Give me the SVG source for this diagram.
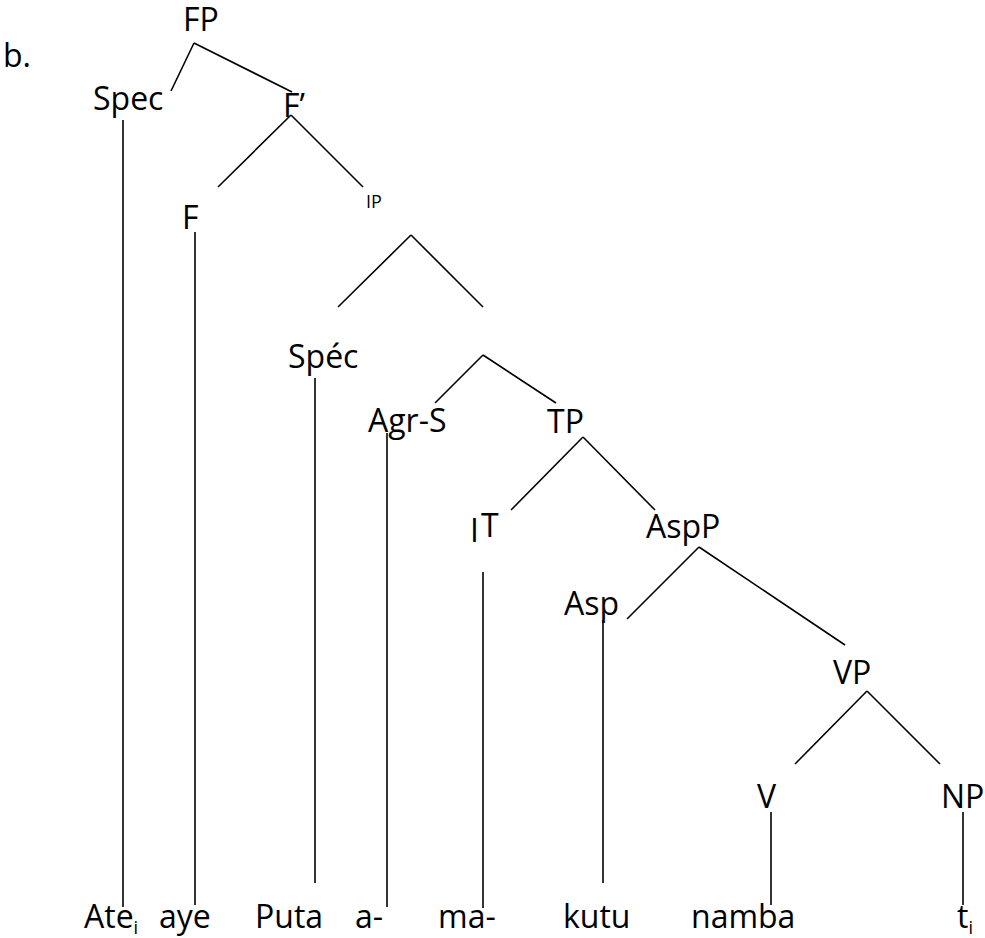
<svg xmlns="http://www.w3.org/2000/svg" width="985" height="938" viewBox="0 0 985 938">
<style>
text{font-family:"Open Sans","Noto Sans",sans-serif;font-size:32px;fill:#000}
.sm{font-size:18px}
.sub{font-size:18px}
line{stroke:#000;stroke-width:1.6;stroke-linecap:butt}
</style>
<rect width="985" height="938" fill="#fff"/>
<g id="connectors">
<line x1="194" y1="43" x2="171" y2="91"/>
<line x1="194" y1="43" x2="292" y2="92"/>
<line x1="291" y1="115" x2="218" y2="187"/>
<line x1="291" y1="115" x2="363" y2="187"/>
<line x1="411" y1="235" x2="338" y2="307"/>
<line x1="411" y1="235" x2="483" y2="307"/>
<line x1="483" y1="355" x2="435" y2="403"/>
<line x1="483" y1="355" x2="556" y2="403"/>
<line x1="583" y1="437" x2="511" y2="510"/>
<line x1="583" y1="437" x2="655" y2="510"/>
<line x1="699" y1="547" x2="627" y2="619"/>
<line x1="699" y1="547" x2="845" y2="645"/>
<line x1="867" y1="691" x2="795" y2="764"/>
<line x1="867" y1="691" x2="940" y2="764"/>
<line x1="123" y1="120" x2="123" y2="907"/>
<line x1="195" y1="232" x2="195" y2="905"/>
<line x1="315" y1="378" x2="315" y2="883"/>
<line x1="387" y1="433" x2="387" y2="907"/>
<line x1="483" y1="572" x2="483" y2="908"/>
<line x1="603" y1="620" x2="603" y2="883"/>
<line x1="771" y1="812" x2="771" y2="905"/>
<line x1="963" y1="812" x2="963" y2="905"/>
</g>
<g id="label-b"><text x="3" y="67">b.</text></g>
<g id="FP"><text x="183" y="31">FP</text></g>
<g id="Spec"><text x="93" y="110">Spec</text></g>
<g id="Fbar"><text x="283" y="117">F’</text></g>
<g id="F"><text x="182" y="229">F</text></g>
<g id="IP"><text class="sm" x="366" y="208">IP</text></g>
<g id="Spec2"><text x="288" y="368">Spéc</text></g>
<g id="AgrS"><text x="368" y="432">Agr-S</text></g>
<g id="TP"><text x="547" y="433">TP</text></g>
<g id="IT"><text x="470" y="542">I</text><text x="481" y="537">T</text></g>
<g id="AspP"><text x="646" y="538">AspP</text></g>
<g id="Asp"><text x="564" y="615">Asp</text></g>
<g id="VP"><text x="833" y="684">VP</text></g>
<g id="V"><text x="757" y="808">V</text></g>
<g id="NP"><text x="941" y="808">NP</text></g>
<g id="w-Ate"><text x="84" y="928">Ate<tspan class="sub" dy="6">i</tspan></text></g>
<g id="w-aye"><text x="159" y="928">aye</text></g>
<g id="w-Puta"><text x="255" y="928">Puta</text></g>
<g id="w-a"><text x="355" y="928">a-</text></g>
<g id="w-ma"><text x="438" y="928">ma-</text></g>
<g id="w-kutu"><text x="563" y="928">kutu</text></g>
<g id="w-namba"><text x="691" y="928">namba</text></g>
<g id="w-t"><text x="957" y="928">t<tspan class="sub" dy="6">i</tspan></text></g>
</svg>
